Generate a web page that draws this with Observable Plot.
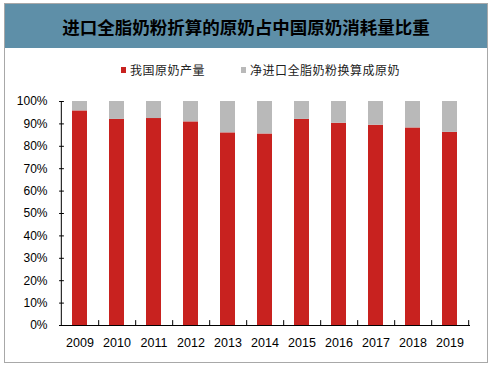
<!DOCTYPE html>
<html>
<head>
<meta charset="utf-8">
<script src="https://cdn.jsdelivr.net/npm/d3@7"></script>
<script src="https://cdn.jsdelivr.net/npm/@observablehq/plot@0.6"></script>
<style>
  html, body { margin: 0; padding: 0; background: #fff; }
  #wrap { position: relative; width: 492px; height: 369px; background: #fff; overflow: hidden; }
  #frame { position: absolute; left: 4px; top: 3px; width: 482px; height: 358px; border: 1px solid #a8a8a8; pointer-events: none; }
  #title { position: absolute; left: 4px; top: 3px; width: 484px; height: 45px; background: #5E8FA8;
           font-family: "Noto Sans CJK SC", sans-serif; font-weight: bold; font-size: 17.5px; color: #000;
           display: flex; align-items: center; justify-content: center; padding-top: 2px; box-sizing: border-box; }
  .leg { position: absolute; top: 62px; height: 16px; line-height: 16px; display: flex; align-items: center;
         font-family: "Noto Sans CJK SC", sans-serif; font-size: 12px; letter-spacing: 0.5px; color: #222; }
  .sw { width: 5px; height: 6px; margin-right: 4px; }
  #chart { position: absolute; left: 0; top: 85px; }
</style>
</head>
<body>
<div id="wrap">
  <div id="chart"></div>
  <div id="title"></div>
  <div id="leg0" class="leg" style="left:121px"></div>
  <div id="leg1" class="leg" style="left:241px"></div>
  <div id="frame"></div>
</div>
<script>
const titleText = "进口全脂奶粉折算的原奶占中国原奶消耗量比重";
const years = ["2009","2010","2011","2012","2013","2014","2015","2016","2017","2018","2019"];
const domestic = [95.8, 92.0, 92.4, 90.9, 86.0, 85.5, 92.0, 90.3, 89.4, 88.2, 86.2];
const imported = [4.2, 8.0, 7.6, 9.1, 14.0, 14.5, 8.0, 9.7, 10.6, 11.8, 13.8];
const seriesNames = ["我国原奶产量", "净进口全脂奶粉换算成原奶"];
const seriesColors = ["#C8221F", "#B9B9B9"];
const yTicks = [0, 10, 20, 30, 40, 50, 60, 70, 80, 90, 100];

document.getElementById("title").textContent = titleText;
seriesNames.forEach((name, i) => {
  const el = document.getElementById("leg" + i);
  const sw = document.createElement("span");
  sw.className = "sw";
  sw.style.background = seriesColors[i];
  el.appendChild(sw);
  const t = document.createElement("span");
  t.textContent = name;
  el.appendChild(t);
});

const table = years.flatMap((y, i) => [
  {year: y, series: seriesNames[0], value: domestic[i]},
  {year: y, series: seriesNames[1], value: imported[i]}
]);

const W = 492, H = 284, mL = 59, mR = 22, mT = 16, mB = 44;
const step = (W - mL - mR) / years.length;
const tickShape = {draw(ctx, l) { ctx.moveTo(0, 0); ctx.lineTo(0, -l); }};

const chart = Plot.plot({
  width: W, height: H,
  marginLeft: mL, marginRight: mR, marginTop: mT, marginBottom: mB,
  style: {fontFamily: "'Liberation Sans', Arial, sans-serif", fontSize: "12px", color: "#000", background: "transparent"},
  x: {domain: years, paddingInner: 0.6, paddingOuter: 0.3},
  y: {domain: [0, 100]},
  color: {domain: seriesNames, range: seriesColors},
  marks: [
    Plot.barY(table, {x: "year", y: "value", fill: "series"}),
    Plot.ruleY([0], {stroke: "#000"}),
    Plot.ruleX([years[0]], {dx: -step / 2, stroke: "#000"}),
    Plot.vector(years, {x: d => d, frameAnchor: "bottom", length: 5, rotate: 0, anchor: "start", shape: tickShape, dx: step / 2, stroke: "#000", strokeWidth: 1}),
    Plot.vector(yTicks, {y: d => d, frameAnchor: "left", length: 4, rotate: 90, anchor: "start", shape: tickShape, stroke: "#000", strokeWidth: 1}),
    Plot.axisX({tickSize: 0, tickPadding: 13, fontSize: 12.5, label: null}),
    Plot.axisY({ticks: yTicks, tickSize: 0, tickPadding: 12, tickFormat: d => d + "%", label: null})
  ]
});
document.getElementById("chart").appendChild(chart);
</script>
</body>
</html>
